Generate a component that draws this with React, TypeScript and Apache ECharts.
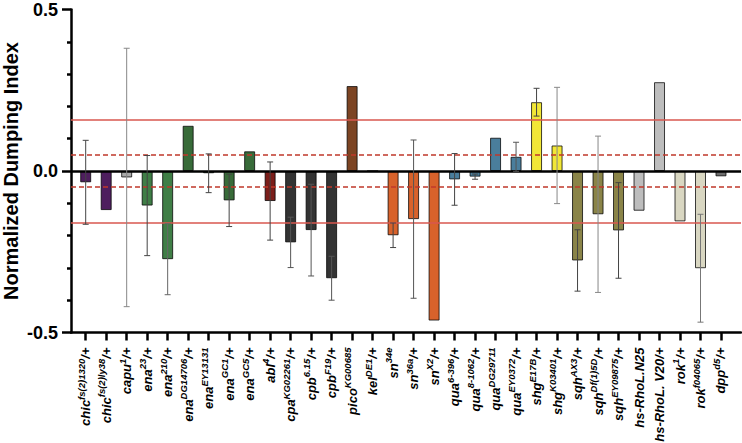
import React, { useEffect, useRef } from "react";
import * as echarts from "echarts";

// Genotype labels: base name, superscript allele, suffix
const labelBase = ["chic", "chic", "capu", "ena", "ena", "ena", "ena", "ena", "ena", "abl", "cpa", "cpb", "cpb", "pico", "kel", "sn", "sn", "sn", "qua", "qua", "qua", "qua", "shg", "shg", "sqh", "sqh", "sqh", "hs-RhoL.N25", "hs-RhoL. V20", "rok", "rok", "dpp"];
const labelSup = ["fs(2)1320", "fs(2)ly38", "1", "23", "210", "DG14706", "EY13131", "GC1", "GC5", "4", "KG02261", "6.15", "F19", "KG00685", "DE1", "34e", "36a", "X2", "6-396", "8-1062", "DG29711", "EY0372", "E17B", "K03401", "AX3", "Df(1)5D", "EY09875", "", "", "1", "f04065", "d5"];
const labelSuffix = ["/+", "/+", "/+", "/+", "/+", "/+", "", "/+", "/+", "/+", "/+", "/+", "/+", "", "/+", "", "/+", "/+", "/+", "/+", "", "/+", "/+", "/+", "/+", "/+", "/+", "", "/+", "/+", "/+", "/+"];

// Normalized dumping index (mean) and error (half-range)
const meanValues = [-0.035, -0.121, -0.02, -0.107, -0.273, 0.14, -0.007, -0.091, 0.061, -0.093, -0.221, -0.183, -0.332, 0.263, 0, -0.199, -0.149, -0.463, -0.026, -0.0175, 0.103, 0.044, 0.213, 0.079, -0.277, -0.134, -0.184, -0.123, 0.275, -0.156, -0.301, -0.0165];
const errorValues = [0.13, 0, 0.4, 0.155, 0.11, 0, 0.06, 0.081, 0, 0.121, 0.078, 0.142, 0.068, 0, 0, 0.038, 0.245, 0, 0.08, 0.008, 0, 0.045, 0.043, 0.18, 0.095, 0.242, 0.148, 0, 0, 0, 0.167, 0];

// Threshold lines
const solidThresholds = [0.162, -0.162];
const dashedThresholds = [0.054, -0.054];

// Styles
const barColors = ["#4e1e5e", "#4e1e5e", "#a9a9a9", "#3f7e46", "#3f7e46", "#386b39", "#386b39", "#386b39", "#386b39", "#7b1e1a", "#333333", "#333333", "#333333", "#7c4423", "#7c4423", "#d8622b", "#d8622b", "#d8622b", "#4a7e9c", "#4a7e9c", "#4a7e9c", "#4a7e9c", "#f2e736", "#f2e736", "#8a8448", "#8a8448", "#8a8448", "#bdbdbd", "#bdbdbd", "#d9d7c2", "#d9d7c2", "#6d6d6d"];
const errColors = ["#444", "#444", "#888", "#444", "#666", "#444", "#444", "#444", "#444", "#444", "#555", "#555", "#555", "#444", "#444", "#444", "#555", "#444", "#444", "#444", "#444", "#555", "#444", "#888", "#444", "#888", "#444", "#444", "#444", "#444", "#777", "#444"];

const FONT = "'Liberation Sans', Arial, Helvetica, sans-serif";

export default function App() {
  const ref = useRef<HTMLDivElement>(null);
  useEffect(() => {
    if (!ref.current) return;
    const chart = echarts.init(ref.current, undefined, { renderer: "svg" });
    const positions = meanValues.map((_, i) => i + 1);
    const barData = meanValues.map((v, i) => ({
      value: [i + 1, v],
      itemStyle: { color: barColors[i] },
    }));
    const errData = meanValues
      .map((v, i) => ({ x: i + 1, lo: v - errorValues[i], hi: v + errorValues[i], e: errorValues[i], c: errColors[i] }))
      .filter((d) => d.e > 0)
      .map((d) => ({ value: [d.x, d.lo, d.hi], c: d.c }));

    const option: any = {
      animation: false,
      grid: { left: 71, right: 1, top: 9.5, bottom: 110.5, containLabel: false, outerBoundsMode: "none" },
      xAxis: {
        type: "value",
        min: 0.283,
        max: 32.976,
        splitLine: { show: false },
        axisLine: { onZero: false, lineStyle: { color: "#000", width: 2.5 } },
        axisTick: { customValues: positions, length: 8, lineStyle: { color: "#000", width: 2.5 } },
        axisLabel: {
          customValues: positions,
          rotate: 90,
          margin: 15,
          formatter: (v: number) => {
            const i = Math.round(v) - 1;
            let s = `{b|${labelBase[i]}}`;
            if (labelSup[i]) s += `{s|${labelSup[i]}}`;
            if (labelSuffix[i]) s += `{b|${labelSuffix[i]}}`;
            return s;
          },
          rich: {
            b: { fontFamily: FONT, fontWeight: "bold", fontStyle: "italic", fontSize: 13, lineHeight: 13, verticalAlign: "bottom", color: "#000" },
            s: { fontFamily: FONT, fontWeight: "bold", fontStyle: "italic", fontSize: 9.5, lineHeight: 9.5, padding: [0, 0, 6, 0], verticalAlign: "bottom", color: "#000" },
          },
        },
      },
      yAxis: {
        type: "value",
        min: -0.5,
        max: 0.5,
        interval: 0.5,
        splitLine: { show: false },
        axisLine: { show: true, lineStyle: { color: "#000", width: 2.5 } },
        axisTick: { show: true, length: 9, lineStyle: { color: "#000", width: 2.5 } },
        minorTick: { show: true, splitNumber: 5, length: 4, lineStyle: { color: "#000", width: 2.5 } },
        axisLabel: {
          margin: 13,
          fontFamily: FONT,
          fontWeight: "bold",
          fontSize: 18,
          color: "#000",
          formatter: (v: number) => v.toFixed(1),
        },
        name: "Normalized Dumping Index",
        nameLocation: "middle",
        nameGap: 50,
        nameMoveOverlap: false,
        nameTextStyle: { fontFamily: FONT, fontWeight: "bold", fontSize: 20, color: "#000" },
      },
      series: [
        {
          type: "line",
          data: [],
          z: 1,
          silent: true,
          markLine: {
            silent: true,
            symbol: "none",
            label: { show: false },
            data: [
              ...solidThresholds.map((y) => ({ yAxis: y, lineStyle: { color: "#d9574f", width: 1.5, type: "solid" } })),
              ...dashedThresholds.map((y) => ({ yAxis: y, lineStyle: { color: "#c0392b", width: 1.5, type: [5, 3] } })),
            ],
          },
        },
        {
          type: "bar",
          data: barData,
          barWidth: 11,
          z: 2,
          itemStyle: { borderColor: "rgba(0,0,0,0.75)", borderWidth: 1 },
        },
        {
          type: "custom",
          z: 5,
          encode: { x: 0, y: [1, 2] },
          data: errData,
          renderItem: (params: any, api: any) => {
            const x = api.value(0);
            const p1 = api.coord([x, api.value(1)]);
            const p2 = api.coord([x, api.value(2)]);
            const c = errData[params.dataIndex].c;
            const style = { stroke: c, lineWidth: 1 };
            return {
              type: "group",
              children: [
                { type: "line", shape: { x1: p1[0], y1: p1[1], x2: p2[0], y2: p2[1] }, style },
                { type: "line", shape: { x1: p1[0] - 3, y1: p1[1], x2: p1[0] + 3, y2: p1[1] }, style },
                { type: "line", shape: { x1: p2[0] - 3, y1: p2[1], x2: p2[0] + 3, y2: p2[1] }, style },
              ],
            };
          },
          markLine: {
            silent: true,
            symbol: "none",
            label: { show: false },
            data: [{ yAxis: 0, lineStyle: { color: "#000", width: 2.5, type: "solid" } }],
          },
        },
      ],
    };
    chart.setOption(option);
    return () => chart.dispose();
  }, []);
  return <div ref={ref} style={{ position: "fixed", left: 0, top: 0, width: 742, height: 443, background: "#fff" }} />;
}
